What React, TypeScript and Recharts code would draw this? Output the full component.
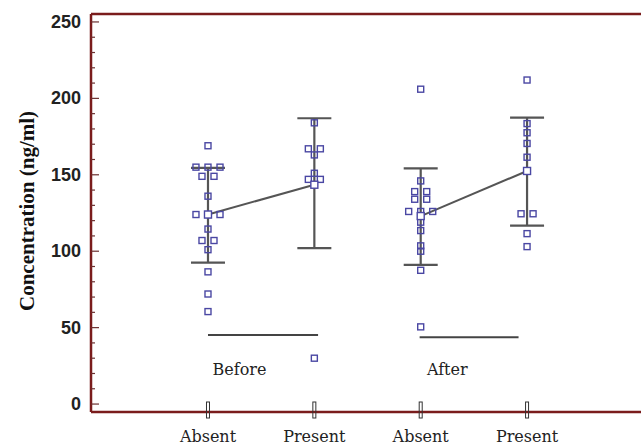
import React from "react";
import {
  ComposedChart,
  Scatter,
  Line,
  XAxis,
  YAxis,
  ErrorBar,
  ReferenceLine,
} from "recharts";

// group positions on the x axis and their labels
const groupX = [1, 2, 3, 4];
const categories = ["Absent", "Present", "Absent", "Present"];

// raw values per group, with a side-by-side slot for tied values
const beforeAbsent = [169, 155, 155, 155, 149, 149, 136, 124, 124, 124, 114.5, 107, 107, 101, 86.5, 72, 60.5];
const beforeAbsentSlot = [0, -1, 0, 1, -0.5, 0.5, 0, -1, 0, 1, 0, -0.5, 0.5, 0, 0, 0, 0];
const beforePresent = [184, 167, 167, 163, 151, 147, 147, 30];
const beforePresentSlot = [0, -0.5, 0.5, 0, 0, -0.5, 0.5, 0];
const afterAbsent = [206, 146, 139, 139, 134, 134, 126, 126, 126, 119, 113.5, 103.5, 100, 87.5, 50.5];
const afterAbsentSlot = [0, 0, -0.5, 0.5, -0.5, 0.5, -1, 0, 1, 0, 0, 0, 0, 0, 0];
const afterPresent = [212, 183.5, 177.5, 170.5, 161.5, 124.5, 124.5, 111.5, 103];
const afterPresentSlot = [0, 0, 0, 0, 0, -0.5, 0.5, 0, 0];

// group means and the ends of the error bars
const means = [124, 143.5, 123, 152.5];
const barHigh = [154.5, 187, 154.2, 187.4];
const barLow = [92.5, 102, 91, 116.7];

// the two baselines under each pair and their captions
const beforeBase = [{ x: 1, y: 45.2 }, { x: 2.035, y: 45.2 }];
const afterBase = [{ x: 2.99, y: 43.7 }, { x: 3.92, y: 43.7 }];
const groupCaptions = [
  { x: 1.296, y: 22.3, text: "Before" },
  { x: 3.25, y: 22.3, text: "After" },
];

const yTicks = [0, 10, 20, 30, 40, 50, 60, 70, 80, 90, 100, 110, 120, 130, 140, 150, 160, 170, 180, 190, 200, 210, 220, 230, 240, 250];

const slotWidth = 0.113;
const frame = "#7a1c1c";
const pointColor = "#4a47a3";
const barColor = "#555555";

const toPoints = (vals: number[], slots: number[], gx: number) =>
  vals.map((v, i) => ({ x: gx + slots[i] * slotWidth, y: v }));

const points = [
  ...toPoints(beforeAbsent, beforeAbsentSlot, groupX[0]),
  ...toPoints(beforePresent, beforePresentSlot, groupX[1]),
  ...toPoints(afterAbsent, afterAbsentSlot, groupX[2]),
  ...toPoints(afterPresent, afterPresentSlot, groupX[3]),
];

const meanRows = groupX.map((x, i) => ({
  x,
  y: means[i],
  err: [means[i] - barLow[i], barHigh[i] - means[i]],
}));
const beforeMeans = meanRows.slice(0, 2);
const afterMeans = meanRows.slice(2, 4);

const Square = (props: any) => (
  <rect
    x={props.cx - 3}
    y={props.cy - 3}
    width={6}
    height={6}
    fill="none"
    stroke={pointColor}
    strokeWidth={1.4}
  />
);

const MeanSquare = (props: any) => (
  <rect
    key={`m-${props.index}`}
    x={props.cx - 3.5}
    y={props.cy - 3.5}
    width={7}
    height={7}
    fill="#ffffff"
    stroke={pointColor}
    strokeWidth={1.4}
  />
);

const Caption = (props: any) => (
  <text
    x={props.cx}
    y={props.cy}
    textAnchor="middle"
    dominantBaseline="central"
    fontFamily="DejaVu Serif"
    fontSize={16}
    fill="#222"
  >
    {props.payload.text}
  </text>
);

const YTick = ({ x, y, payload }: any) => {
  const major = payload.value % 50 === 0;
  return (
    <g>
      <line x1={x} x2={x + (major ? 8 : 4)} y1={y} y2={y} stroke="#6b3030" strokeWidth={1.2} />
      {major && (
        <text
          x={x - 10}
          y={y}
          textAnchor="end"
          dominantBaseline="central"
          fontFamily="Liberation Sans"
          fontWeight="bold"
          fontSize={18}
          fill="#222"
        >
          {payload.value}
        </text>
      )}
    </g>
  );
};

const XTick = ({ x, y, payload }: any) => {
  const i = groupX.indexOf(payload.value);
  return (
    <g>
      <rect x={x - 1.5} y={y - 10} width={3} height={16} fill="none" stroke="#333" strokeWidth={1} />
      <text
        x={x}
        y={y + 30}
        textAnchor="middle"
        fontFamily="DejaVu Serif"
        fontSize={16}
        fill="#222"
      >
        {categories[i]}
      </text>
    </g>
  );
};

const YTitle = () => (
  <text
    x={27}
    y={211}
    transform="rotate(-90 27 211)"
    textAnchor="middle"
    dominantBaseline="central"
    fontFamily="Liberation Serif"
    fontWeight="bold"
    fontSize={21}
    fill="#111"
  >
    Concentration (ng/ml)
  </text>
);

export default function App() {
  const yMax = 255.2;
  return (
    <div
      style={{
        position: "absolute",
        left: 0,
        top: 0,
        width: 641,
        height: 446,
        overflow: "hidden",
        background: "#ffffff",
      }}
    >
      <ComposedChart width={660} height={446} margin={{ top: 14, right: 0, left: 0, bottom: 0 }}>
        <XAxis
          type="number"
          dataKey="x"
          domain={[-0.1, 5.25]}
          ticks={groupX}
          interval={0}
          allowDataOverflow
          height={34}
          tickSize={0}
          tickMargin={0}
          tickLine={false}
          tick={<XTick />}
          axisLine={{ stroke: frame, strokeWidth: 2.5 }}
        />
        <YAxis
          type="number"
          dataKey="y"
          domain={[-5.2, yMax]}
          ticks={yTicks}
          interval={0}
          allowDataOverflow
          width={91}
          tickSize={0}
          tickMargin={0}
          tickLine={false}
          tick={<YTick />}
          axisLine={{ stroke: frame, strokeWidth: 2.5 }}
          label={<YTitle />}
        />
        <ReferenceLine y={yMax} stroke={frame} strokeWidth={2.5} />
        <Line data={beforeBase} dataKey="y" stroke="#444" strokeWidth={2} dot={false} isAnimationActive={false} />
        <Line data={afterBase} dataKey="y" stroke="#444" strokeWidth={2} dot={false} isAnimationActive={false} />
        <Scatter data={points} dataKey="y" shape={<Square />} isAnimationActive={false} />
        <Line
          data={beforeMeans}
          dataKey="y"
          stroke={barColor}
          strokeWidth={2}
          dot={MeanSquare}
          isAnimationActive={false}
        >
          <ErrorBar dataKey="err" width={17} stroke={barColor} strokeWidth={2.2} direction="y" />
        </Line>
        <Line
          data={afterMeans}
          dataKey="y"
          stroke={barColor}
          strokeWidth={2}
          dot={MeanSquare}
          isAnimationActive={false}
        >
          <ErrorBar dataKey="err" width={17} stroke={barColor} strokeWidth={2.2} direction="y" />
        </Line>
        <Scatter data={groupCaptions} dataKey="y" shape={<Caption />} isAnimationActive={false} />
      </ComposedChart>
    </div>
  );
}
